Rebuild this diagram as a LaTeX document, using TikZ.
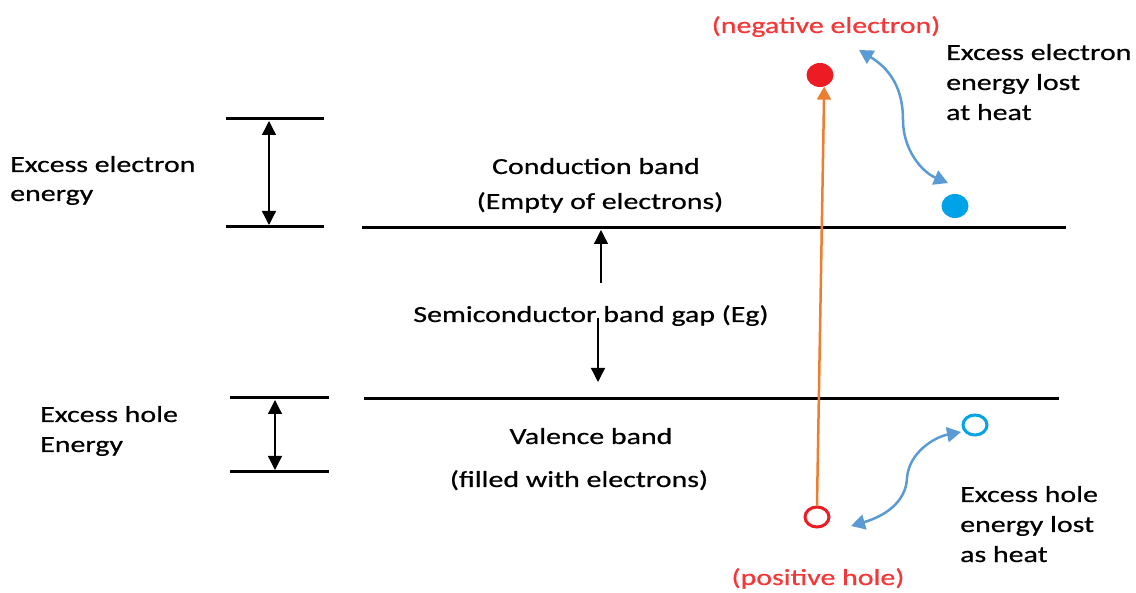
\documentclass[tikz,border=0pt]{standalone}
\usepackage{fontspec}
\setmainfont{Carlito}[FakeBold=0.5]
\usepackage{graphicx}
\usetikzlibrary{arrows.meta,shapes.geometric}
\definecolor{dotred}{RGB}{237,28,36}
\definecolor{txtred}{RGB}{245,55,55}
\definecolor{dotblue}{RGB}{0,162,232}
\definecolor{curveblue}{RGB}{91,155,213}
\definecolor{arrorange}{RGB}{237,125,49}
\newcommand\wtxt[1]{\scalebox{1.3}[1]{#1}}
\tikzset{
  lbl/.style={inner sep=0pt, font=\fontsize{23}{30}\selectfont},
  lblc/.style={lbl, anchor=base},
  lblw/.style={lbl, anchor=base west},
  level/.style={line width=3pt},
  gaparrow/.style={line width=1.3pt, {Triangle[length=14pt,width=14pt]}-{Triangle[length=14pt,width=14pt]}},
  onearrow/.style={line width=1.3pt, -{Triangle[length=14pt,width=14pt]}},
  heatarrow/.style={curveblue, line width=2.5pt, {Triangle[length=14pt,width=15pt]}-{Triangle[length=14pt,width=15pt]}},
  dot/.style={ellipse, inner sep=0pt, minimum width=27pt, minimum height=24pt},
  ring/.style={ellipse, inner sep=0pt, minimum width=24pt, minimum height=20pt, line width=3pt}
}
\begin{document}
\begin{tikzpicture}[x=1pt,y=-1pt]
\useasboundingbox (0,0) rectangle (1136,593);
% left short levels
\draw[level] (226,119) -- (324,119);
\draw[level] (226,227) -- (324,227);
\draw[gaparrow] (269,121) -- (269,225);
\draw[level] (230,398) -- (329,398);
\draw[level] (230,472) -- (329,472);
\draw[gaparrow] (275,400) -- (275,470);
% main bands
\draw[level] (362,228) -- (1066,228);
\draw[level] (364,399) -- (1059,399);
% band gap arrows
\draw[onearrow] (601,283) -- (601,230);
\draw[onearrow] (598,318) -- (598,382);
% texts
\node[lblw] (t1a) at (10,172) {\wtxt{Excess electron}};
\node[lblw] (t1b) at (10,201) {\wtxt{energy}};
\node[lblw] (t2a) at (40,422) {\wtxt{Excess hole}};
\node[lblw] (t2b) at (40,452) {\wtxt{Energy}};
\node[lblc] (cb1) at (596,174) {\wtxt{Conduction band}};
\node[lblc] (cb2) at (600,209) {\wtxt{(Empty of electrons)}};
\node[lblc] (gap) at (591,322) {\wtxt{Semiconductor band gap (Eg)}};
\node[lblc] (vb1) at (591,444) {\wtxt{Valence band}};
\node[lblc] (vb2) at (579,487) {\wtxt{(filled with electrons)}};
\node[lblc, text=txtred] (neg) at (826,33) {\wtxt{(negative electron)}};
\node[lblc, text=txtred] (pos) at (818,585) {\wtxt{(positive hole)}};
\node[lblw] (r1a) at (946,60) {\wtxt{Excess electron}};
\node[lblw] (r1b) at (946,90) {\wtxt{energy lost}};
\node[lblw] (r1c) at (946,120) {\wtxt{at heat}};
\node[lblw] (r2a) at (960,502) {\wtxt{Excess hole}};
\node[lblw] (r2b) at (960,532) {\wtxt{energy lost}};
\node[lblw] (r2c) at (960,562) {\wtxt{as heat}};
% particles
\node[dot, fill=dotred] (edot) at (820,75) {};
\node[dot, fill=dotblue] (bdot) at (955,206) {};
\node[ring, draw=dotred] (hring) at (817,517) {};
\node[ring, draw=dotblue] (bring) at (975,425) {};
% excitation arrow
\draw[arrorange, line width=2.5pt, -{Triangle[length=13pt,width=14pt]}] (hring.north) -- (edot.-70);
% heat loss arrows
\coordinate (c1) at (859,50);
\coordinate (c2) at (948,183);
\coordinate (c3) at (851,526);
\coordinate (c4) at (961,432);
\draw[heatarrow] (c1) .. controls (895,72) and (903,95) .. (903,120) .. controls (903,150) and (922,172) .. (c2);
\draw[heatarrow] (c3) .. controls (885,516) and (906,502) .. (907,478) .. controls (909,452) and (935,437) .. (c4);
\end{tikzpicture}
\end{document}
